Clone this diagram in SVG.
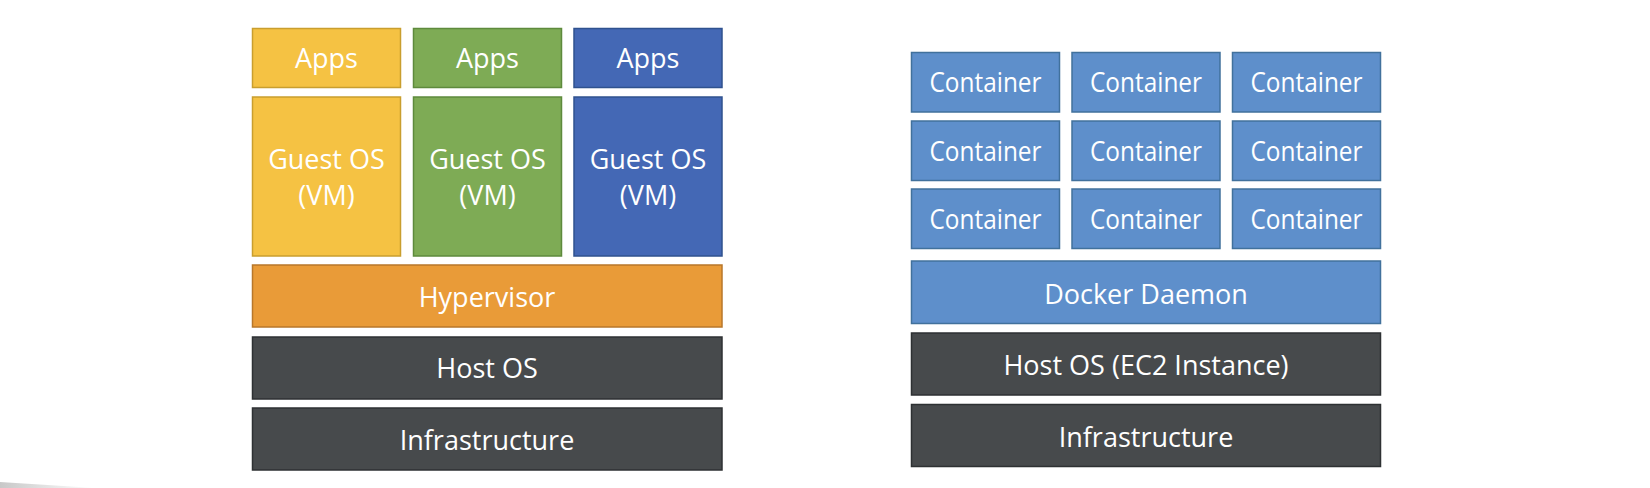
<svg xmlns="http://www.w3.org/2000/svg" width="1650" height="488" viewBox="0 0 1650 488">
<defs>
<linearGradient id="shadow" x1="0" y1="0" x2="1" y2="0">
<stop offset="0" stop-color="#c8c8c8"/>
<stop offset="1" stop-color="#ffffff"/>
</linearGradient>
</defs>
<style>
text{font-family:"Open Sans","Liberation Sans",Arial,sans-serif;fill:#ffffff;text-anchor:middle}
.t{font-size:27px}
.yel{fill:#F5C243;stroke:#C99E2E;stroke-width:1.5}
.grn{fill:#7EAB55;stroke:#5E8A3C;stroke-width:1.5}
.blu{fill:#4468B5;stroke:#2F528F;stroke-width:1.5}
.org{fill:#E99B38;stroke:#B8772A;stroke-width:1.5}
.drk{fill:#474A4C;stroke:#2E3133;stroke-width:1.5}
.cnt{fill:#5E8FCB;stroke:#41719C;stroke-width:1.5}
</style>
<rect width="1650" height="488" fill="#ffffff"/>
<polygon points="0,482 95,488 0,488" fill="url(#shadow)"/>
<g id="apps1"><rect class="yel" x="252.5" y="28.5" width="148" height="59"/><text class="t" x="326.5" y="67.5">Apps</text></g>
<g id="apps2"><rect class="grn" x="413.5" y="28.5" width="148" height="59"/><text class="t" x="487.5" y="67.5">Apps</text></g>
<g id="apps3"><rect class="blu" x="574" y="28.5" width="148" height="59"/><text class="t" x="648" y="67.5">Apps</text></g>
<g id="vm1"><rect class="yel" x="252.5" y="97" width="148" height="159"/><text class="t" x="326.5" y="169">Guest OS</text><text class="t" x="326.5" y="205">(VM)</text></g>
<g id="vm2"><rect class="grn" x="413.5" y="97" width="148" height="159"/><text class="t" x="487.5" y="169">Guest OS</text><text class="t" x="487.5" y="205">(VM)</text></g>
<g id="vm3"><rect class="blu" x="574" y="97" width="148" height="159"/><text class="t" x="648" y="169">Guest OS</text><text class="t" x="648" y="205">(VM)</text></g>
<g id="hypervisor"><rect class="org" x="252.5" y="265" width="469.5" height="62"/><text class="t" x="487" y="307">Hypervisor</text></g>
<g id="hostos1"><rect class="drk" x="252.5" y="337" width="469.5" height="62"/><text class="t" x="487" y="378">Host OS</text></g>
<g id="infra1"><rect class="drk" x="252.5" y="408" width="469.5" height="62"/><text class="t" x="487" y="450">Infrastructure</text></g>
<g id="c11"><rect class="cnt" x="911.5" y="52.5" width="148" height="59.5"/><text class="t" x="985.5" y="92" textLength="112" lengthAdjust="spacingAndGlyphs">Container</text></g>
<g id="c12"><rect class="cnt" x="1072" y="52.5" width="148" height="59.5"/><text class="t" x="1146" y="92" textLength="112" lengthAdjust="spacingAndGlyphs">Container</text></g>
<g id="c13"><rect class="cnt" x="1232.5" y="52.5" width="148" height="59.5"/><text class="t" x="1306.5" y="92" textLength="112" lengthAdjust="spacingAndGlyphs">Container</text></g>
<g id="c21"><rect class="cnt" x="911.5" y="121" width="148" height="59.5"/><text class="t" x="985.5" y="160.5" textLength="112" lengthAdjust="spacingAndGlyphs">Container</text></g>
<g id="c22"><rect class="cnt" x="1072" y="121" width="148" height="59.5"/><text class="t" x="1146" y="160.5" textLength="112" lengthAdjust="spacingAndGlyphs">Container</text></g>
<g id="c23"><rect class="cnt" x="1232.5" y="121" width="148" height="59.5"/><text class="t" x="1306.5" y="160.5" textLength="112" lengthAdjust="spacingAndGlyphs">Container</text></g>
<g id="c31"><rect class="cnt" x="911.5" y="189" width="148" height="59.5"/><text class="t" x="985.5" y="229" textLength="112" lengthAdjust="spacingAndGlyphs">Container</text></g>
<g id="c32"><rect class="cnt" x="1072" y="189" width="148" height="59.5"/><text class="t" x="1146" y="229" textLength="112" lengthAdjust="spacingAndGlyphs">Container</text></g>
<g id="c33"><rect class="cnt" x="1232.5" y="189" width="148" height="59.5"/><text class="t" x="1306.5" y="229" textLength="112" lengthAdjust="spacingAndGlyphs">Container</text></g>
<g id="docker"><rect class="cnt" x="911.5" y="261" width="469" height="62.5"/><text class="t" x="1146" y="304">Docker Daemon</text></g>
<g id="hostos2"><rect class="drk" x="911.5" y="333" width="469" height="62"/><text class="t" x="1146" y="375">Host OS (EC2 Instance)</text></g>
<g id="infra2"><rect class="drk" x="911.5" y="404.5" width="469" height="62"/><text class="t" x="1146" y="446.5">Infrastructure</text></g>
<g id="connectors"></g>
</svg>
